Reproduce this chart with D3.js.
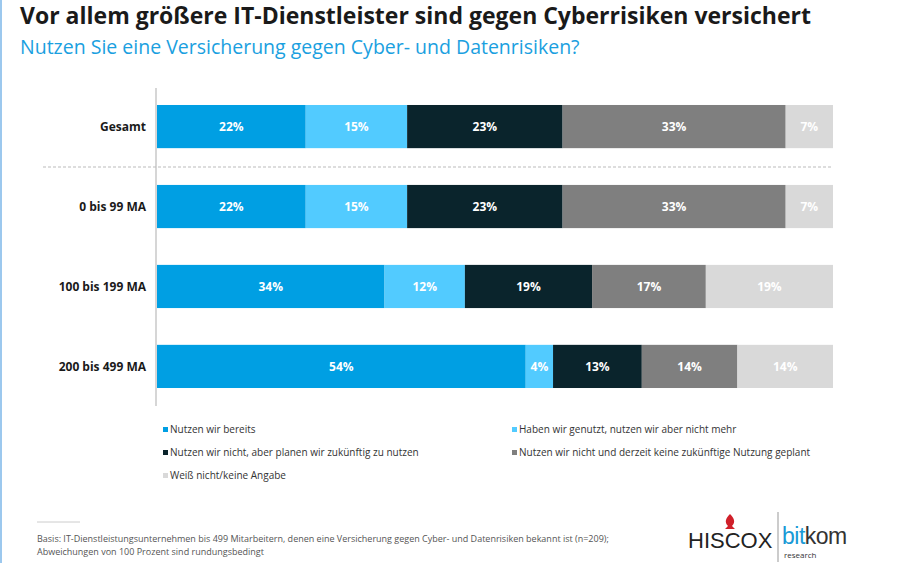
<!DOCTYPE html>
<html><head><meta charset="utf-8">
<script src="https://cdn.jsdelivr.net/npm/d3@7"></script>
<style>body{margin:0;background:#fff}svg{font-family:"Open Sans",sans-serif}</style>
</head><body><svg id="c" width="900" height="563"></svg>
<script>
const categories=["Gesamt","0 bis 99 MA","100 bis 199 MA","200 bis 499 MA"];
const seriesNames=["Nutzen wir bereits","Haben wir genutzt, nutzen wir aber nicht mehr","Nutzen wir nicht, aber planen wir zukünftig zu nutzen","Nutzen wir nicht und derzeit keine zukünftige Nutzung geplant","Weiß nicht/keine Angabe"];
const s1=[22,22,34,54];
const s2=[15,15,12,4];
const s3=[23,23,19,13];
const s4=[33,33,17,14];
const s5=[7,7,19,14];
const colors=["#009fe3","#52cbff","#0a242c","#7f7f7f","#d9d9d9"];
const series=[s1,s2,s3,s4,s5];
const svg=d3.select("#c");
svg.append("text").attr("x",20).attr("y",24).attr("font-size",23).attr("font-weight",700).attr("fill","#1a1a1a").text("Vor allem größere IT-Dienstleister sind gegen Cyberrisiken  versichert");
svg.append("text").attr("x",20).attr("y",54).attr("font-size",19.5).attr("fill","#1aa0e0").text("Nutzen Sie eine Versicherung gegen Cyber- und Datenrisiken?");
const x0=157,x1=833;
const y=d3.scaleBand().domain(categories).range([85,408]).paddingInner(0.46).paddingOuter(0.25);
categories.forEach((c,i)=>{
  const vals=series.map(s=>s[i]);const tot=d3.sum(vals);
  const x=d3.scaleLinear().domain([0,tot]).range([x0,x1]);
  let acc=0;
  vals.forEach((v,j)=>{
    svg.append("rect").attr("x",x(acc)).attr("y",y(c)).attr("width",x(acc+v)-x(acc)).attr("height",y.bandwidth()).attr("fill",colors[j]);
    svg.append("text").attr("x",(x(acc)+x(acc+v))/2).attr("y",y(c)+y.bandwidth()/2+4.5).attr("text-anchor","middle").attr("font-size",12).attr("font-weight",700).attr("fill","#fff").text(v+"%");
    acc+=v;
  });
  svg.append("text").attr("x",146).attr("y",y(c)+y.bandwidth()/2+4.5).attr("text-anchor","end").attr("font-size",12).attr("font-weight",700).attr("fill","#1a1a1a").text(c);
});
svg.append("line").attr("x1",156).attr("x2",156).attr("y1",88).attr("y2",406).attr("stroke","#c8c8c8").attr("stroke-width",1.5);
svg.append("line").attr("x1",43).attr("x2",833).attr("y1",167).attr("y2",167).attr("stroke","#bbb").attr("stroke-dasharray","3,2");
svg.append("line").attr("x1",1).attr("x2",1).attr("y1",0).attr("y2",563).attr("stroke","#9cc8ee").attr("stroke-width",2);
const leg=[[163,433],[512,433],[163,456],[512,456],[163,479]];
seriesNames.forEach((n,j)=>{
  const g=svg.append("g").attr("transform",`translate(${leg[j][0]},${leg[j][1]})`);
  g.append("rect").attr("x",0).attr("y",-6).attr("width",5).attr("height",5).attr("fill",colors[j]);
  g.append("text").attr("x",7).attr("y",0).attr("font-size",10).attr("fill","#333").text(n);
});
svg.append("line").attr("x1",37).attr("x2",80).attr("y1",522).attr("y2",522).attr("stroke","#ccc");
svg.append("text").attr("x",37).attr("y",542).attr("font-size",9).attr("fill","#555").text("Basis: IT-Dienstleistungsunternehmen  bis 499 Mitarbeitern,  denen eine Versicherung gegen Cyber- und Datenrisiken  bekannt ist (n=209);");
svg.append("text").attr("x",37).attr("y",555).attr("font-size",9).attr("fill","#555").text("Abweichungen von 100 Prozent sind rundungsbedingt");
svg.append("text").attr("x",688).attr("y",548).attr("font-size",22).attr("fill","#222").attr("font-family","Liberation Sans").text("HISCOX");
svg.append("path").attr("d","M730,514 c-4,4 -6,8 -2,12 l-3,3 h10 l-3,-3 c4,-4 2,-8 -2,-12z").attr("fill","#d0202a");
svg.append("line").attr("x1",778).attr("x2",778).attr("y1",512).attr("y2",562).attr("stroke","#999");
const bk=svg.append("text").attr("x",782).attr("y",544).attr("font-size",23).attr("font-family","Liberation Sans Narrow, Liberation Sans").attr("letter-spacing",-0.5);
bk.append("tspan").attr("fill","#1a9ad6").text("bit");
bk.append("tspan").attr("fill","#333").text("kom");
svg.append("text").attr("x",784).attr("y",558).attr("font-size",8).attr("fill","#333").text("research");
</script></body></html>
